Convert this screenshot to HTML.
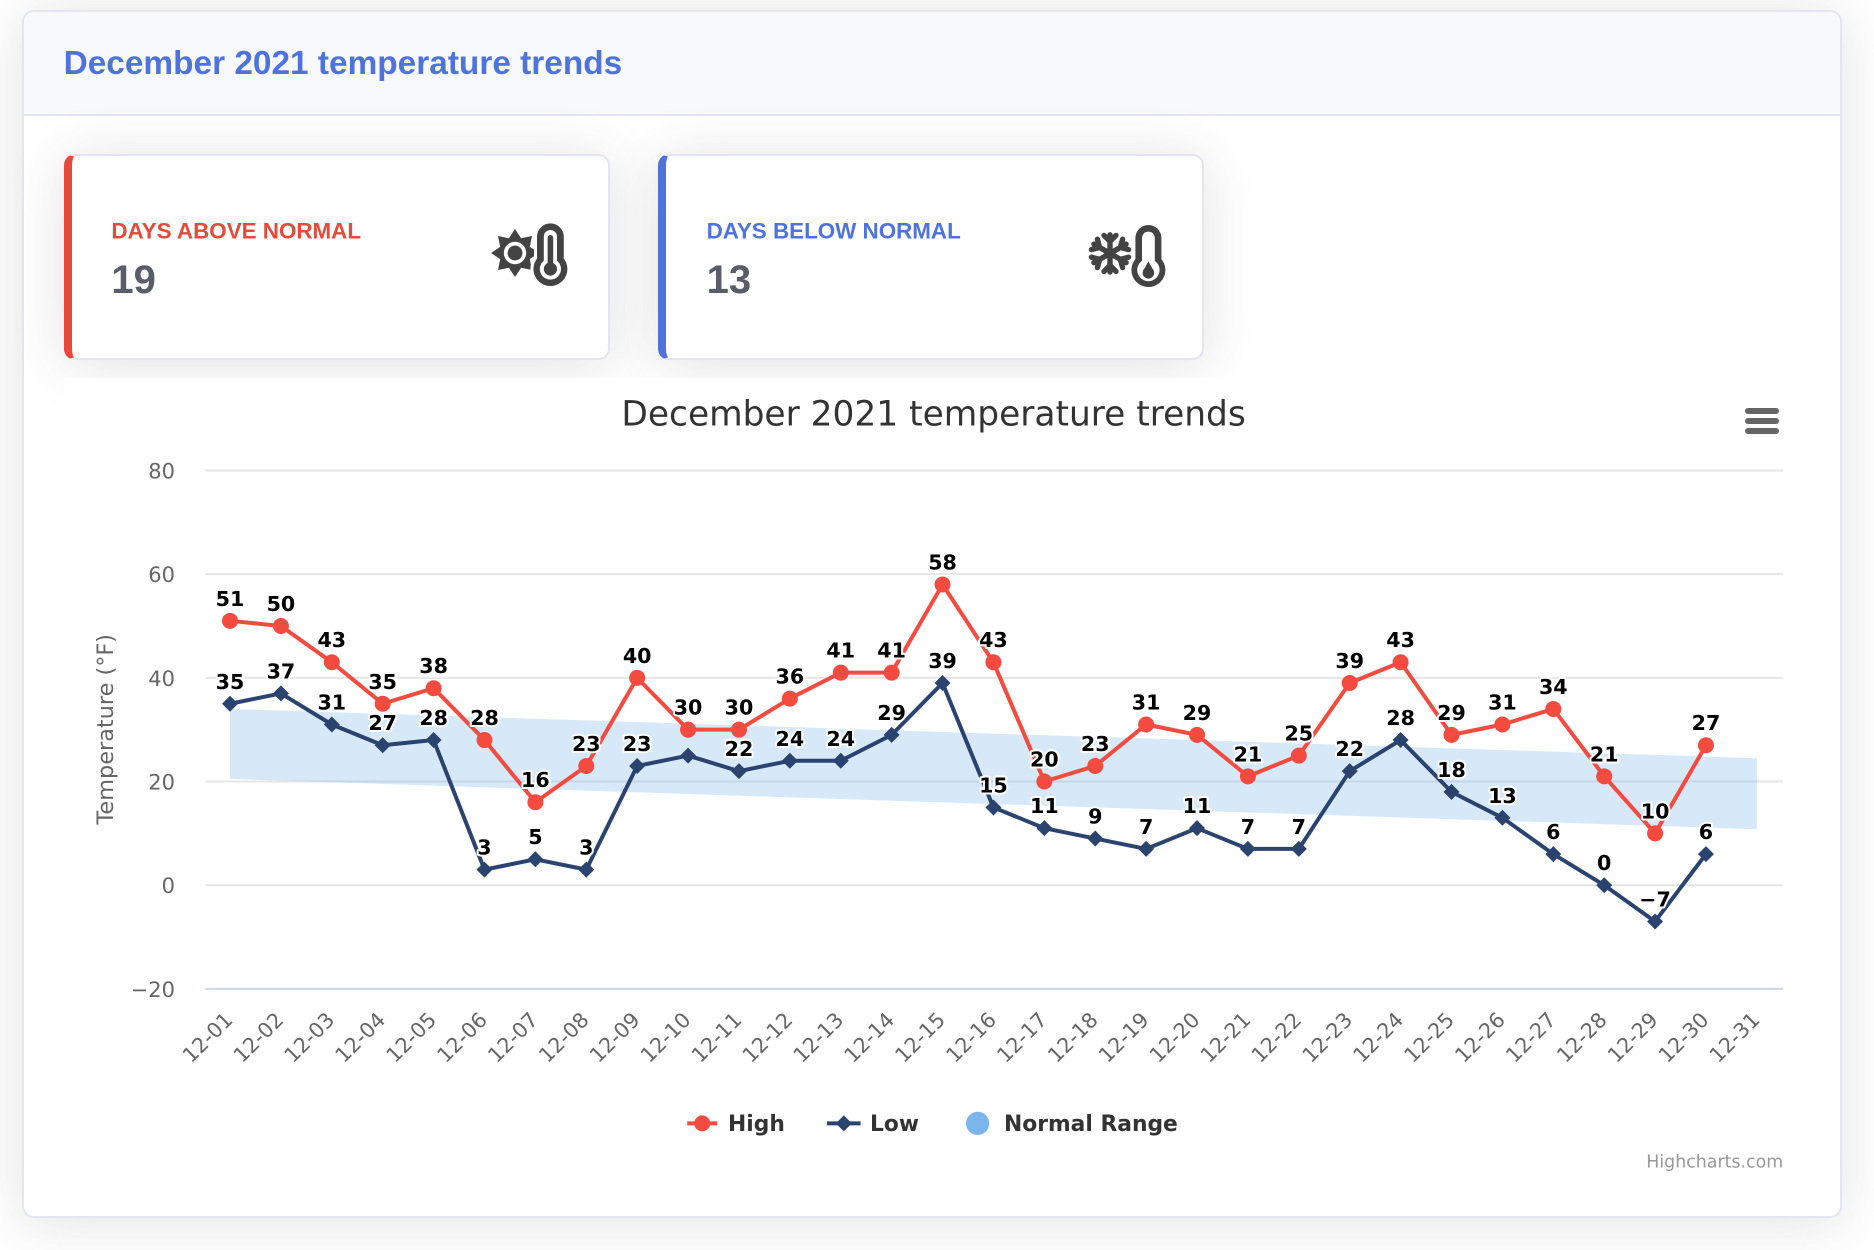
<!DOCTYPE html>
<html><head><meta charset="utf-8"><style>
html,body{margin:0;padding:0;width:1874px;height:1250px;overflow:hidden;background:#ffffff;}
#w{position:absolute;left:0;top:0;width:937px;height:625px;transform:scale(2);transform-origin:0 0;}
.outer{position:absolute;left:10.8px;top:4.8px;width:910.7px;height:604px;box-sizing:border-box;border:1px solid #e3e6f0;border-radius:6px;background:#fff;box-shadow:0 2.4px 28px rgba(58,59,69,.15);overflow:hidden;}
.hdr{position:absolute;left:0;top:0;right:0;height:51.2px;background:#f8f9fc;border-bottom:1px solid #e3e6f0;}
.stat{position:absolute;top:77.4px;width:273.1px;height:103px;box-sizing:border-box;border:1px solid #e3e6f0;border-radius:5.6px;background:#fff;box-shadow:0 2.4px 28px rgba(58,59,69,.15);}
.chartbg{position:absolute;left:31.8px;top:189px;width:868.2px;height:400px;background:#fff;}
svg{position:absolute;left:0;top:0;}
</style></head><body><div id="w">
<div class="outer"><div class="hdr"></div></div>
<div class="stat" style="left:31.7px;border-left:4px solid #e74a3b;"></div>
<div class="stat" style="left:329.3px;border-left:4px solid #4e73df;"></div>
<div class="chartbg"></div>
<svg width="937" height="625" viewBox="0 0 937 625" xmlns="http://www.w3.org/2000/svg">
<g font-family="'Liberation Sans', sans-serif" font-weight="bold">
<text x="31.8" y="37" font-size="16.7" fill="#4e73df">December 2021 temperature trends</text>
<text x="55.7" y="119.3" font-size="11.2" fill="#e74a3b">DAYS ABOVE NORMAL</text>
<text x="55.7" y="146.4" font-size="20" fill="#5a5c69">19</text>
<text x="353.3" y="119.3" font-size="11.2" fill="#4e73df">DAYS BELOW NORMAL</text>
<text x="353.3" y="146.4" font-size="20" fill="#5a5c69">13</text>
</g>
<!-- icon 1: sun + thermometer -->
<g fill="#434343">
<g transform="translate(257.5 126.5)">
<polygon points="0,-12 3.06,-7.39 8.49,-8.49 7.39,-3.06 12,0 7.39,3.06 8.49,8.49 3.06,7.39 0,12 -3.06,7.39 -8.49,8.49 -7.39,3.06 -12,0 -7.39,-3.06 -8.49,-8.49 -3.06,-7.39"/>
<circle cx="0" cy="0" r="7.9"/>
<circle cx="0" cy="0" r="5.6" fill="#fff"/>
<circle cx="0" cy="0" r="3.7"/>
</g>
<rect x="268.5" y="111.7" width="13.4" height="23" rx="6.7" stroke="#fff" stroke-width="3"/>
<circle cx="275.2" cy="134.5" r="8.5" stroke="#fff" stroke-width="3"/>
<rect x="268.5" y="111.7" width="13.4" height="23" rx="6.7"/>
<circle cx="275.2" cy="134.5" r="8.5"/>
<rect x="271.9" y="115" width="6.6" height="20" rx="3.3" fill="#fff"/>
<circle cx="275.2" cy="134.5" r="5.3" fill="#fff"/>
<rect x="273.8" y="117.5" width="2.8" height="16" rx="1.4"/>
<circle cx="275.2" cy="134.5" r="3.3"/>
</g>
<!-- icon 2: snowflake + thermometer -->
<g stroke="#434343" stroke-width="2.7" fill="none" stroke-linecap="round" stroke-linejoin="round">
<g transform="translate(555 126.7)">
<g><line x1="0" y1="0" x2="0" y2="-9.3"/><polyline points="-3,-9 0,-6 3,-9"/></g>
<g transform="rotate(60)"><line x1="0" y1="0" x2="0" y2="-9.3"/><polyline points="-3,-9 0,-6 3,-9"/></g>
<g transform="rotate(120)"><line x1="0" y1="0" x2="0" y2="-9.3"/><polyline points="-3,-9 0,-6 3,-9"/></g>
<g transform="rotate(180)"><line x1="0" y1="0" x2="0" y2="-9.3"/><polyline points="-3,-9 0,-6 3,-9"/></g>
<g transform="rotate(240)"><line x1="0" y1="0" x2="0" y2="-9.3"/><polyline points="-3,-9 0,-6 3,-9"/></g>
<g transform="rotate(300)"><line x1="0" y1="0" x2="0" y2="-9.3"/><polyline points="-3,-9 0,-6 3,-9"/></g>
</g>
</g>
<g fill="#434343">
<rect x="567.7" y="112.5" width="13" height="23" rx="6.5"/>
<circle cx="574.2" cy="135" r="8.5"/>
<rect x="571" y="115.8" width="6.4" height="20" rx="3.2" fill="#fff"/>
<circle cx="574.2" cy="135" r="5.6" fill="#fff"/>
<circle cx="574.2" cy="136.4" r="2.9"/>
<polygon points="574.2,130.6 571.6,135.4 576.8,135.4"/>
</g>

<g font-family="'DejaVu Sans', sans-serif">
<text x="466.8" y="212.7" font-size="17.2" fill="#333333" text-anchor="middle">December 2021 temperature trends</text>
<g stroke="#666666" stroke-width="3" stroke-linecap="round">
<line x1="874" y1="205.5" x2="888" y2="205.5"/>
<line x1="874" y1="210.5" x2="888" y2="210.5"/>
<line x1="874" y1="215.5" x2="888" y2="215.5"/>
</g>
<g stroke="#e6e6e6" stroke-width="1">
<line x1="102.6" y1="235.24" x2="891.6" y2="235.24"/>
<line x1="102.6" y1="287.08" x2="891.6" y2="287.08"/>
<line x1="102.6" y1="338.92" x2="891.6" y2="338.92"/>
<line x1="102.6" y1="390.76" x2="891.6" y2="390.76"/>
<line x1="102.6" y1="442.6" x2="891.6" y2="442.6"/>
</g>
<line x1="102.6" y1="494.44" x2="891.6" y2="494.44" stroke="#ccd6eb" stroke-width="1"/>
<g font-size="10.5" fill="#666666" text-anchor="end">
<text x="87.5" y="239.3">80</text>
<text x="87.5" y="291.1">60</text>
<text x="87.5" y="343">40</text>
<text x="87.5" y="394.8">20</text>
<text x="87.5" y="446.6">0</text>
<text x="87.5" y="498.5">−20</text>
</g>
<text x="0" y="0" font-size="11.2" fill="#666666" text-anchor="middle" transform="translate(56.5 364.6) rotate(-90)">Temperature (°F)</text>
<polygon points="115,354.47 878.44,379.1 878.44,414.6 115,389.46" fill="#7cb5ec" fill-opacity="0.3"/>
<polyline fill="none" stroke="#f44b40" stroke-width="2" stroke-linejoin="round" points="115.0,310.41 140.45,312.99 165.90,331.14 191.34,351.88 216.79,344.10 242.24,370.02 267.69,401.13 293.14,382.98 318.58,338.92 344.03,364.84 369.48,364.84 394.93,349.29 420.38,336.33 445.82,336.33 471.27,292.26 496.72,331.14 522.17,390.76 547.62,382.98 573.06,362.25 598.51,367.43 623.96,388.17 649.41,377.80 674.86,341.51 700.30,331.14 725.75,367.43 751.20,362.25 776.65,354.47 802.10,388.17 827.54,416.68 852.99,372.62"/>
<g fill="#f44b40">
<circle cx="115.0" cy="310.41" r="4"/><circle cx="140.45" cy="312.99" r="4"/><circle cx="165.90" cy="331.14" r="4"/><circle cx="191.34" cy="351.88" r="4"/><circle cx="216.79" cy="344.10" r="4"/><circle cx="242.24" cy="370.02" r="4"/><circle cx="267.69" cy="401.13" r="4"/><circle cx="293.14" cy="382.98" r="4"/><circle cx="318.58" cy="338.92" r="4"/><circle cx="344.03" cy="364.84" r="4"/><circle cx="369.48" cy="364.84" r="4"/><circle cx="394.93" cy="349.29" r="4"/><circle cx="420.38" cy="336.33" r="4"/><circle cx="445.82" cy="336.33" r="4"/><circle cx="471.27" cy="292.26" r="4"/><circle cx="496.72" cy="331.14" r="4"/><circle cx="522.17" cy="390.76" r="4"/><circle cx="547.62" cy="382.98" r="4"/><circle cx="573.06" cy="362.25" r="4"/><circle cx="598.51" cy="367.43" r="4"/><circle cx="623.96" cy="388.17" r="4"/><circle cx="649.41" cy="377.80" r="4"/><circle cx="674.86" cy="341.51" r="4"/><circle cx="700.30" cy="331.14" r="4"/><circle cx="725.75" cy="367.43" r="4"/><circle cx="751.20" cy="362.25" r="4"/><circle cx="776.65" cy="354.47" r="4"/><circle cx="802.10" cy="388.17" r="4"/><circle cx="827.54" cy="416.68" r="4"/><circle cx="852.99" cy="372.62" r="4"/>
</g>
<polyline fill="none" stroke="#2b446f" stroke-width="2" stroke-linejoin="round" points="115.0,351.88 140.45,346.70 165.90,362.25 191.34,372.62 216.79,370.02 242.24,434.82 267.69,429.64 293.14,434.82 318.58,382.98 344.03,377.80 369.48,385.58 394.93,380.39 420.38,380.39 445.82,367.43 471.27,341.51 496.72,403.72 522.17,414.09 547.62,419.27 573.06,424.46 598.51,414.09 623.96,424.46 649.41,424.46 674.86,385.58 700.30,370.02 725.75,395.94 751.20,408.90 776.65,427.05 802.10,442.60 827.54,460.74 852.99,427.05"/>
<g fill="#2b446f">
<path d="M115.0 347.88l4 4-4 4-4-4z"/><path d="M140.45 342.7l4 4-4 4-4-4z"/><path d="M165.9 358.25l4 4-4 4-4-4z"/><path d="M191.34 368.62l4 4-4 4-4-4z"/><path d="M216.79 366.02l4 4-4 4-4-4z"/><path d="M242.24 430.82l4 4-4 4-4-4z"/><path d="M267.69 425.64l4 4-4 4-4-4z"/><path d="M293.14 430.82l4 4-4 4-4-4z"/><path d="M318.58 378.98l4 4-4 4-4-4z"/><path d="M344.03 373.8l4 4-4 4-4-4z"/><path d="M369.48 381.58l4 4-4 4-4-4z"/><path d="M394.93 376.39l4 4-4 4-4-4z"/><path d="M420.38 376.39l4 4-4 4-4-4z"/><path d="M445.82 363.43l4 4-4 4-4-4z"/><path d="M471.27 337.51l4 4-4 4-4-4z"/><path d="M496.72 399.72l4 4-4 4-4-4z"/><path d="M522.17 410.09l4 4-4 4-4-4z"/><path d="M547.62 415.27l4 4-4 4-4-4z"/><path d="M573.06 420.46l4 4-4 4-4-4z"/><path d="M598.51 410.09l4 4-4 4-4-4z"/><path d="M623.96 420.46l4 4-4 4-4-4z"/><path d="M649.41 420.46l4 4-4 4-4-4z"/><path d="M674.86 381.58l4 4-4 4-4-4z"/><path d="M700.3 366.02l4 4-4 4-4-4z"/><path d="M725.75 391.94l4 4-4 4-4-4z"/><path d="M751.2 404.9l4 4-4 4-4-4z"/><path d="M776.65 423.05l4 4-4 4-4-4z"/><path d="M802.1 438.6l4 4-4 4-4-4z"/><path d="M827.54 456.74l4 4-4 4-4-4z"/><path d="M852.99 423.05l4 4-4 4-4-4z"/>
</g>
<g font-size="10.3" font-weight="bold" fill="#000" text-anchor="middle" stroke="#fff" stroke-width="2" stroke-linejoin="round" style="paint-order:stroke">
<text x="115.0" y="302.9">51</text><text x="140.45" y="305.5">50</text><text x="165.9" y="323.6">43</text><text x="191.34" y="344.4">35</text><text x="216.79" y="336.6">38</text><text x="242.24" y="362.5">28</text><text x="267.69" y="393.6">16</text><text x="293.14" y="375.5">23</text><text x="318.58" y="331.4">40</text><text x="344.03" y="357.3">30</text><text x="369.48" y="357.3">30</text><text x="394.93" y="341.8">36</text><text x="420.38" y="328.8">41</text><text x="445.82" y="328.8">41</text><text x="471.27" y="284.8">58</text><text x="496.72" y="323.6">43</text><text x="522.17" y="383.3">20</text><text x="547.62" y="375.5">23</text><text x="573.06" y="354.8">31</text><text x="598.51" y="359.9">29</text><text x="623.96" y="380.7">21</text><text x="649.41" y="370.3">25</text><text x="674.86" y="334.0">39</text><text x="700.3" y="323.6">43</text><text x="725.75" y="359.9">29</text><text x="751.2" y="354.8">31</text><text x="776.65" y="347.0">34</text><text x="802.1" y="380.7">21</text><text x="827.54" y="409.2">10</text><text x="852.99" y="365.1">27</text>
<text x="115.0" y="344.4">35</text><text x="140.45" y="339.2">37</text><text x="165.9" y="354.8">31</text><text x="191.34" y="365.1">27</text><text x="216.79" y="362.5">28</text><text x="242.24" y="427.3">3</text><text x="267.69" y="422.1">5</text><text x="293.14" y="427.3">3</text><text x="318.58" y="375.5">23</text><text x="369.48" y="378.1">22</text><text x="394.93" y="372.9">24</text><text x="420.38" y="372.9">24</text><text x="445.82" y="359.9">29</text><text x="471.27" y="334.0">39</text><text x="496.72" y="396.2">15</text><text x="522.17" y="406.6">11</text><text x="547.62" y="411.8">9</text><text x="573.06" y="417.0">7</text><text x="598.51" y="406.6">11</text><text x="623.96" y="417.0">7</text><text x="649.41" y="417.0">7</text><text x="674.86" y="378.1">22</text><text x="700.3" y="362.5">28</text><text x="725.75" y="388.4">18</text><text x="751.2" y="401.4">13</text><text x="776.65" y="419.6">6</text><text x="802.1" y="435.1">0</text><text x="827.54" y="453.2">−7</text><text x="852.99" y="419.6">6</text>
</g>
<g font-size="10.4" fill="#666666" text-anchor="end">
<text x="117" y="510.6" transform="rotate(-45 117 510.6)">12-01</text>
<text x="142.45" y="510.6" transform="rotate(-45 142.45 510.6)">12-02</text>
<text x="167.9" y="510.6" transform="rotate(-45 167.9 510.6)">12-03</text>
<text x="193.34" y="510.6" transform="rotate(-45 193.34 510.6)">12-04</text>
<text x="218.79" y="510.6" transform="rotate(-45 218.79 510.6)">12-05</text>
<text x="244.24" y="510.6" transform="rotate(-45 244.24 510.6)">12-06</text>
<text x="269.69" y="510.6" transform="rotate(-45 269.69 510.6)">12-07</text>
<text x="295.14" y="510.6" transform="rotate(-45 295.14 510.6)">12-08</text>
<text x="320.58" y="510.6" transform="rotate(-45 320.58 510.6)">12-09</text>
<text x="346.03" y="510.6" transform="rotate(-45 346.03 510.6)">12-10</text>
<text x="371.48" y="510.6" transform="rotate(-45 371.48 510.6)">12-11</text>
<text x="396.93" y="510.6" transform="rotate(-45 396.93 510.6)">12-12</text>
<text x="422.38" y="510.6" transform="rotate(-45 422.38 510.6)">12-13</text>
<text x="447.82" y="510.6" transform="rotate(-45 447.82 510.6)">12-14</text>
<text x="473.27" y="510.6" transform="rotate(-45 473.27 510.6)">12-15</text>
<text x="498.72" y="510.6" transform="rotate(-45 498.72 510.6)">12-16</text>
<text x="524.17" y="510.6" transform="rotate(-45 524.17 510.6)">12-17</text>
<text x="549.62" y="510.6" transform="rotate(-45 549.62 510.6)">12-18</text>
<text x="575.06" y="510.6" transform="rotate(-45 575.06 510.6)">12-19</text>
<text x="600.51" y="510.6" transform="rotate(-45 600.51 510.6)">12-20</text>
<text x="625.96" y="510.6" transform="rotate(-45 625.96 510.6)">12-21</text>
<text x="651.41" y="510.6" transform="rotate(-45 651.41 510.6)">12-22</text>
<text x="676.86" y="510.6" transform="rotate(-45 676.86 510.6)">12-23</text>
<text x="702.3" y="510.6" transform="rotate(-45 702.3 510.6)">12-24</text>
<text x="727.75" y="510.6" transform="rotate(-45 727.75 510.6)">12-25</text>
<text x="753.2" y="510.6" transform="rotate(-45 753.2 510.6)">12-26</text>
<text x="778.65" y="510.6" transform="rotate(-45 778.65 510.6)">12-27</text>
<text x="804.1" y="510.6" transform="rotate(-45 804.1 510.6)">12-28</text>
<text x="829.54" y="510.6" transform="rotate(-45 829.54 510.6)">12-29</text>
<text x="854.99" y="510.6" transform="rotate(-45 854.99 510.6)">12-30</text>
<text x="880.44" y="510.6" transform="rotate(-45 880.44 510.6)">12-31</text>
</g>
<line x1="343.6" y1="561.7" x2="358.6" y2="561.7" stroke="#f44b40" stroke-width="2"/>
<circle cx="351.1" cy="561.7" r="4" fill="#f44b40"/>
<line x1="413.5" y1="561.7" x2="430.3" y2="561.7" stroke="#2b446f" stroke-width="2"/>
<path d="M421.9 557.7l4 4-4 4-4-4z" fill="#2b446f"/>
<circle cx="488.8" cy="561.7" r="5.8" fill="#7cb5ec"/>
<g font-size="10.9" font-weight="bold" fill="#333333">
<text x="364" y="565.6">High</text>
<text x="435" y="565.6">Low</text>
<text x="502" y="565.6">Normal Range</text>
</g>
<text x="891.6" y="583.8" font-size="8.7" fill="#999999" text-anchor="end">Highcharts.com</text>
</g>
</svg>
</div></body></html>
